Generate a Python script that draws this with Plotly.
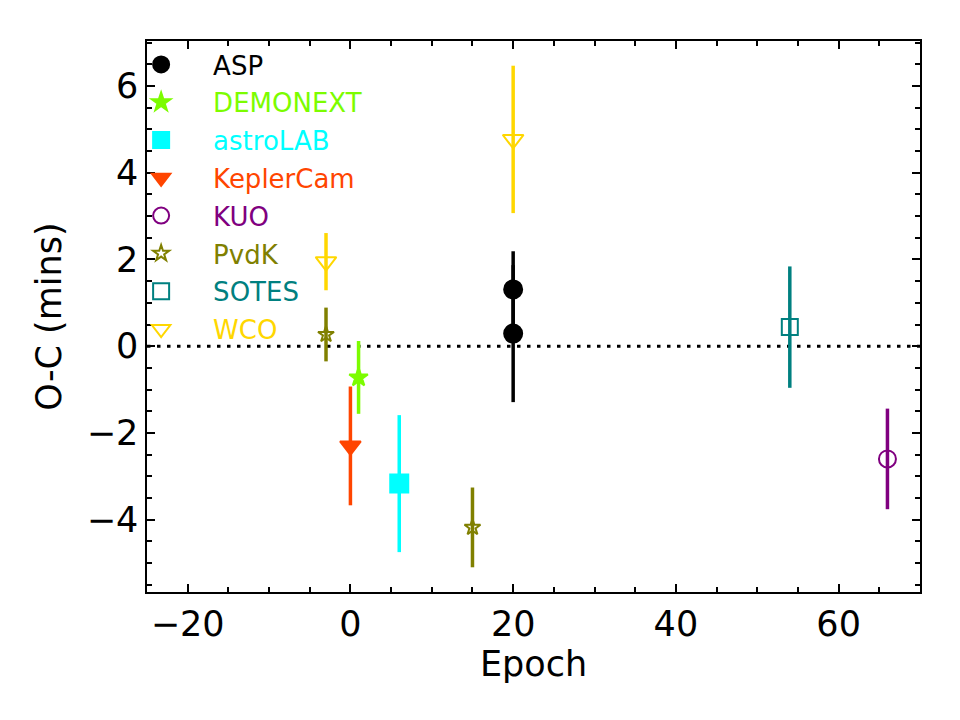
import plotly.graph_objects as go

# ---- data ----
asp_x = [20, 20]
asp_y = [1.31, 0.29]
asp_err = [0.88, 1.58]

demonext_x = [1]
demonext_y = [-0.72]
demonext_err = [0.84]

astrolab_x = [6]
astrolab_y = [-3.17]
astrolab_err = [1.58]

keplercam_x = [0]
keplercam_y = [-2.30]
keplercam_err = [1.37]

kuo_x = [66]
kuo_y = [-2.60]
kuo_err = [1.16]

pvdk_x = [-3, 15]
pvdk_y = [0.27, -4.18]
pvdk_err = [0.62, 0.92]

sotes_x = [54]
sotes_y = [0.44]
sotes_err = [1.40]

wco_x = [-3, 20]
wco_y = [1.95, 4.77]
wco_err = [0.66, 1.70]

x_range = [-25, 70]
y_range = [-5.67, 7.04]

series = [
    ("ASP", asp_x, asp_y, asp_err, "#000000", "circle", 18),
    ("DEMONEXT", demonext_x, demonext_y, demonext_err, "#7CFC00", "star", 14),
    ("astroLAB", astrolab_x, astrolab_y, astrolab_err, "#00FFFF", "square", 18),
    ("KeplerCam", keplercam_x, keplercam_y, keplercam_err, "#FF4500", "triangle-down", 18),
    ("KUO", kuo_x, kuo_y, kuo_err, "#800080", "circle-open", 17),
    ("PvdK", pvdk_x, pvdk_y, pvdk_err, "#808000", "star-open", 12),
    ("SOTES", sotes_x, sotes_y, sotes_err, "#008080", "square-open", 16),
    ("WCO", wco_x, wco_y, wco_err, "#FFD700", "triangle-down-open", 18),
]

fig = go.Figure()

# zero reference line
fig.add_trace(go.Scatter(
    x=x_range, y=[0, 0], mode="lines",
    line=dict(color="black", width=3, dash="3.5px,6.5px"),
    showlegend=False, hoverinfo="skip",
))

for name, xs, ys, errs, color, symbol, size in series:
    fig.add_trace(go.Scatter(
        x=xs, y=ys, mode="markers",
        name=f'<span style="color:{color}">{name}</span>',
        legendgroup=name,
        marker=dict(symbol=symbol, size=size, color=color,
                    line=dict(color=color, width=2)),
        error_y=dict(type="data", array=errs, visible=True,
                     color=color, thickness=3.5, width=0),
    ))

axis_common = dict(
    showline=True, linecolor="black", linewidth=1.5, mirror="ticks",
    ticks="inside", ticklen=8, tickwidth=1.5, tickcolor="black",
    showgrid=False, zeroline=False,
    tickfont=dict(family="DejaVu Sans", size=35, color="black"),
)

fig.update_xaxes(
    range=x_range, dtick=20, tick0=0,
    title=dict(text="Epoch", font=dict(family="DejaVu Sans", size=35, color="black"), standoff=6),
    minor=dict(ticks="inside", dtick=5, ticklen=5, tickwidth=1.5, tickcolor="black"),
    **axis_common,
)
fig.update_yaxes(
    range=y_range, dtick=2, tick0=0,
    title=dict(text="O-C (mins)", font=dict(family="DejaVu Sans", size=35, color="black"), standoff=14),
    minor=dict(ticks="inside", dtick=0.5, ticklen=5, tickwidth=1.5, tickcolor="black"),
    **axis_common,
)

fig.update_layout(
    width=960, height=720,
    margin=dict(l=147, r=40, t=41, b=128, autoexpand=False),
    paper_bgcolor="white", plot_bgcolor="white",
    font=dict(family="DejaVu Sans", color="black"),
    legend=dict(
        x=-0.049, y=1.0, xanchor="left", yanchor="top",
        bgcolor="rgba(0,0,0,0)", borderwidth=0,
        font=dict(family="DejaVu Sans", size=26),
        itemwidth=94, tracegroupgap=1, traceorder="grouped",
    ),
)

fig.write_html("out.html")
